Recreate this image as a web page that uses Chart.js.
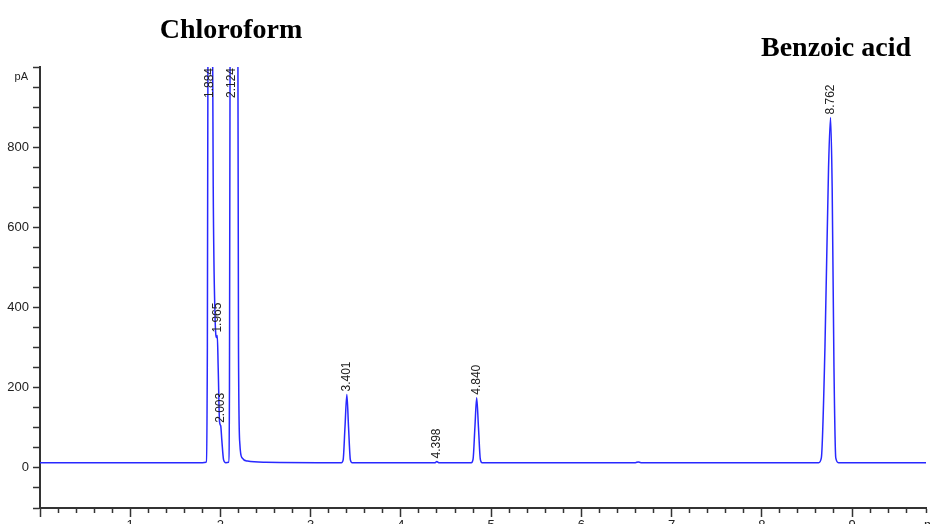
<!DOCTYPE html>
<html>
<head>
<meta charset="utf-8">
<script src="https://cdn.jsdelivr.net/npm/chart.js@4.4.1/dist/chart.umd.min.js"></script>
<style>
  html, body { margin: 0; padding: 0; background: #ffffff; }
  #wrap { width: 930px; height: 524px; position: relative; overflow: hidden; }
</style>
</head>
<body>
<div id="wrap"><canvas id="c" width="930" height="524"></canvas></div>
<script>
// ---- data ----
const timeMin = [
  0.00, 1.80, 1.84, 1.855, 1.865, 1.884, 1.905, 1.92, 1.94, 1.958, 1.965, 1.975,
  1.99, 2.003, 2.015, 2.035, 2.06, 2.09, 2.10, 2.11, 2.124, 2.17, 2.19, 2.20,
  2.215, 2.24, 2.30, 2.50,
  3.34, 3.36, 3.38, 3.401, 3.42, 3.44, 3.46,
  4.38, 4.398, 4.42,
  4.78, 4.80, 4.82, 4.840, 4.86, 4.88, 4.90,
  6.60, 6.63, 6.66,
  8.63, 8.66, 8.70, 8.74, 8.762, 8.78, 8.80, 8.82, 8.85, 9.82
];
const signalPa = [
  13, 13, 14, 300, 1500, 2500, 1500, 700, 380, 325, 330, 250,
  115, 105, 70, 20, 13, 14, 200, 1500, 4000, 3500, 1500, 300,
  60, 25, 17, 14,
  13, 20, 100, 183, 100, 20, 13,
  13, 16, 13,
  13, 22, 100, 175, 100, 22, 13,
  13, 15, 13,
  13, 25, 300, 750, 874, 700, 250, 25, 13, 13
];
const peakTimes  = [1.884, 1.965, 2.003, 2.124, 3.401, 4.398, 4.840, 8.762];
const peakLabels = ['1.884', '1.965', '2.003', '2.124', '3.401', '4.398', '4.840', '8.762'];
const peakApex   = [2500, 330, 105, 4000, 183, 16, 175, 874];
const yTickValues = [0, 200, 400, 600, 800];
const xTickValues = [1, 2, 3, 4, 5, 6, 7, 8, 9];
const yUnit = 'pA';
const xUnit = 'min';
const compoundTitles = ['Chloroform', 'Benzoic acid'];

const axisColor = '#333333';
const textColor = '#222222';
const lineColor = 'rgb(40,40,255)';

const overlayPlugin = {
  id: 'overlay',
  afterDatasetsDraw(chart) {
    const ctx = chart.ctx;
    const xs = chart.scales.x, ys = chart.scales.y;
    const area = chart.chartArea;
    // peak labels (rotated)
    ctx.save();
    ctx.font = '12px "Liberation Sans", Arial, sans-serif';
    ctx.fillStyle = textColor;
    ctx.textAlign = 'left';
    ctx.textBaseline = 'middle';
    peakTimes.forEach((t, i) => {
      const px = xs.getPixelForValue(t);
      const w = ctx.measureText(peakLabels[i]).width;
      let py = ys.getPixelForValue(peakApex[i]) - 3;
      py = Math.max(py, area.top + w + 1);
      ctx.save();
      ctx.translate(px, py);
      ctx.rotate(-Math.PI / 2);
      ctx.fillText(peakLabels[i], 0, 0);
      ctx.restore();
    });
    ctx.restore();
  },
  afterDraw(chart) {
    const ctx = chart.ctx;
    const area = chart.chartArea;
    ctx.save();
    ctx.fillStyle = textColor;
    ctx.font = '11px "Liberation Sans", Arial, sans-serif';
    ctx.textAlign = 'right';
    ctx.textBaseline = 'middle';
    ctx.fillText(yUnit, 28, area.top + 10);
    ctx.font = '13px "Liberation Sans", Arial, sans-serif';
    ctx.textAlign = 'left';
    ctx.textBaseline = 'top';
    ctx.fillText(xUnit, area.right - 2, area.bottom + 11);
    // compound titles
    ctx.fillStyle = '#000000';
    ctx.font = 'bold 28px "Liberation Serif", "Times New Roman", serif';
    ctx.textAlign = 'center';
    ctx.textBaseline = 'alphabetic';
    ctx.fillText(compoundTitles[0], 231, 38);
    ctx.fillText(compoundTitles[1], 836, 56);
    ctx.restore();
  }
};

new Chart(document.getElementById('c'), {
  type: 'line',
  data: {
    datasets: [{
      data: timeMin.map((t, i) => ({ x: t, y: signalPa[i] })),
      borderColor: lineColor,
      borderWidth: 1.5,
      pointRadius: 0,
      fill: false,
      cubicInterpolationMode: 'monotone'
    }]
  },
  options: {
    responsive: false,
    devicePixelRatio: 1,
    animation: false,
    events: [],
    layout: { padding: { top: 67, right: 4, left: 0, bottom: 0 } },
    plugins: { legend: { display: false }, tooltip: { enabled: false }, title: { display: false } },
    scales: {
      x: {
        type: 'linear',
        min: 0,
        max: 9.82,
        afterFit(scale) { scale.height = 16; },
        border: { display: true, color: axisColor, width: 2 },
        grid: {
          drawOnChartArea: false,
          drawTicks: true,
          tickLength: 9,
          tickColor: axisColor,
          tickWidth: 1.5,
          tickBorderDash: (ctx) => {
            const v = ctx.tick ? ctx.tick.value : 0;
            return Math.abs(v - Math.round(v)) < 1e-6 ? [] : [4, 100];
          }
        },
        ticks: {
          stepSize: 0.2,
          autoSkip: false,
          maxRotation: 0,
          padding: 1,
          color: textColor,
          font: { family: '"Liberation Sans", Arial, sans-serif', size: 13 },
          callback: (v) => {
            const r = Math.round(v);
            return (Math.abs(v - r) < 1e-6 && xTickValues.includes(r)) ? String(r) : '';
          }
        }
      },
      y: {
        min: -100,
        max: 1000,
        afterFit(scale) { scale.width = 40; },
        border: { display: true, color: axisColor, width: 2 },
        grid: {
          drawOnChartArea: false,
          drawTicks: true,
          tickLength: 7,
          tickColor: axisColor,
          tickWidth: 1.5
        },
        ticks: {
          stepSize: 50,
          autoSkip: false,
          padding: 4,
          color: textColor,
          font: { family: '"Liberation Sans", Arial, sans-serif', size: 13 },
          callback: (v) => yTickValues.includes(v) ? String(v) : ''
        }
      }
    }
  },
  plugins: [overlayPlugin]
});
</script>
</body>
</html>
